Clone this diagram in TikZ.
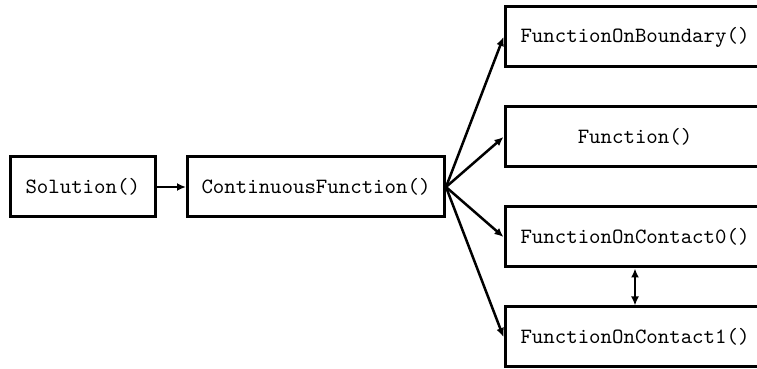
\documentclass[tikz,border=0pt]{standalone}
\usetikzlibrary{arrows.meta}
\begin{document}
\begin{tikzpicture}[x=0.5pt,y=-0.5pt,
  box/.style={draw, line width=1.5pt, inner sep=0pt, minimum height=30pt,
    font=\ttfamily\fontsize{10.9}{12}\selectfont},
  conn/.style={line width=1.25pt, -{Latex[length=4.5pt,width=4pt]}},
  dconn/.style={line width=1.3pt, {Latex[length=4.5pt,width=4pt]}-{Latex[length=4.5pt,width=4pt]}}]
\useasboundingbox (0,0) rectangle (757,369);
\node[box, minimum width=72.75pt] (sol) at (82.75,187) {Solution()};
\node[box, minimum width=128.5pt] (cont) at (316,187) {ContinuousFunction()};
\node[box, minimum width=130pt] (fb) at (635,37) {FunctionOnBoundary()};
\node[box, minimum width=130pt] (f) at (635,137) {Function()};
\node[box, minimum width=130pt] (c0) at (635,237) {FunctionOnContact0()};
\node[box, minimum width=130pt] (c1) at (635,337) {FunctionOnContact1()};
\draw[conn] (sol.east) -- (cont.west);
\draw[conn] (cont.east) -- (fb.west);
\draw[conn] (cont.east) -- (f.west);
\draw[conn] (cont.east) -- (c0.west);
\draw[conn] (cont.east) -- (c1.west);
\draw[dconn] (c0.south) -- (c1.north);
\end{tikzpicture}
\end{document}
